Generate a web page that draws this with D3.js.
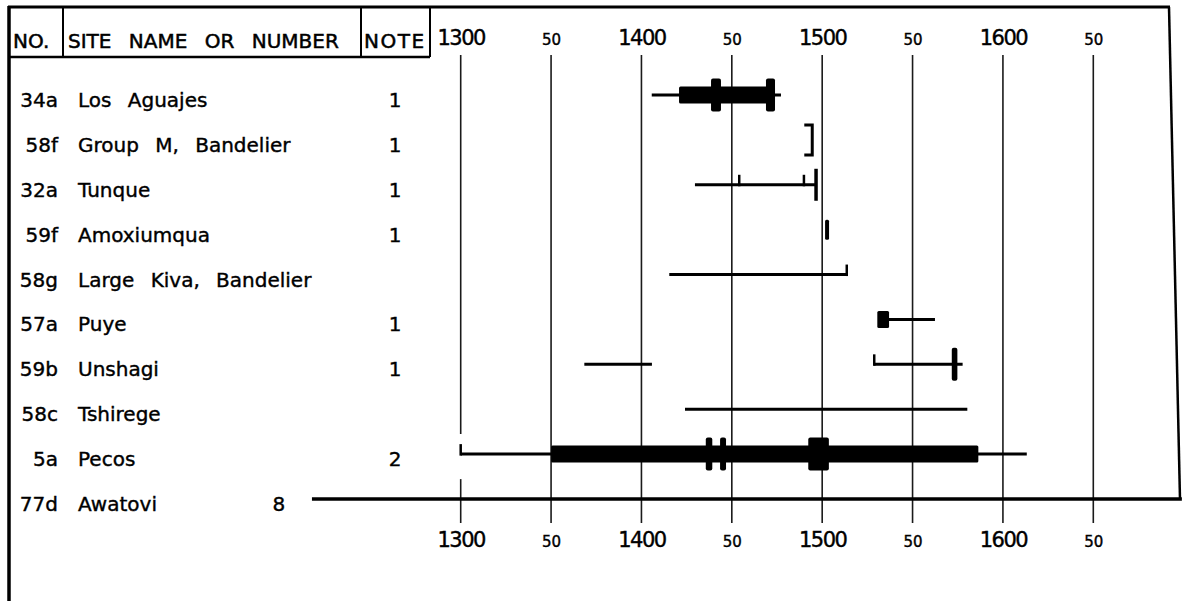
<!DOCTYPE html>
<html>
<head>
<meta charset="utf-8">
<script src="https://cdn.jsdelivr.net/npm/d3@7"></script>
<style>
  html, body { margin: 0; padding: 0; background: #fff; }
  svg { display: block; }
</style>
</head>
<body>
<script>
// ---------- DATA ----------
const rows  = ["34a", "58f", "32a", "59f", "58g", "57a", "59b", "58c", "5a", "77d"];
const names = ["Los Aguajes", "Group M, Bandelier", "Tunque", "Amoxiumqua",
               "Large Kiva, Bandelier", "Puye", "Unshagi", "Tshirege", "Pecos", "Awatovi"];
const notes = ["1", "1", "1", "1", "", "1", "1", "", "2", "8"];

const tickValues = [1300, 1350, 1400, 1450, 1500, 1550, 1600, 1650];
const tickLabels = ["1300", "50", "1400", "50", "1500", "50", "1600", "50"];
const headers = ["NO.", "SITE NAME OR NUMBER", "NOTE"];

// thin date-range lines [row, from, to]
const thinRanges = [
  ["34a", 1405.7, 1477.2],
  ["32a", 1429.6, 1496.6],
  ["58g", 1415.4, 1513.6],
  ["57a", 1533.0, 1562.4],
  ["59b", 1368.4, 1405.8],
  ["59b", 1528.8, 1577.7],
  ["58c", 1424.1, 1580.3],
  ["5a",  1300.0, 1613.2],
  ["77d", 1217.7, 1699.0]
];
// heavy bars [row, from, to]
const heavyRanges = [
  ["34a", 1420.8, 1473.9],
  ["57a", 1530.5, 1537.0],
  ["5a",  1350.0, 1586.4]
];
// tall blocks [row, from, to]
const tallBlocks = [
  ["34a", 1438.5, 1444.0],
  ["34a", 1468.9, 1473.9],
  ["59b", 1571.7, 1574.8],
  ["5a",  1435.6, 1439.2],
  ["5a",  1443.5, 1446.8],
  ["5a",  1492.3, 1503.7]
];
// short blocks [row, from, to]
const shortBlocks = [
  ["59f", 1501.6, 1503.8]
];
// upward ticks [row, year]
const upTicks = [
  ["32a", 1454.1], ["32a", 1489.9],
  ["58g", 1513.6], ["59b", 1528.8], ["5a", 1300.0]
];
// full vertical end bars [row, year]
const endBars = [["32a", 1496.6]];
// brackets "]" [row, from, to]
const brackets = [["58f", 1490.1, 1494.5]];

// ---------- CHART ----------
const W = 1182, H = 601;
const svg = d3.select("body").append("svg").attr("width", W).attr("height", H);

const x = d3.scaleLinear().domain([1300, 1650]).range([460.7, 1093.3]);
const y = d3.scalePoint().domain(rows).range([95, 499]);

const ink = "#000";
const font = "'DejaVu Sans', sans-serif";

// frame
svg.append("line").attr("x1", 9).attr("y1", 6).attr("x2", 9).attr("y2", H)
  .attr("stroke", ink).attr("stroke-width", 3.5);
svg.append("line").attr("x1", 8).attr("y1", 7).attr("x2", 1170).attr("y2", 7)
  .attr("stroke", ink).attr("stroke-width", 3);
svg.append("line").attr("x1", 1169).attr("y1", 7).attr("x2", 1180).attr("y2", 499)
  .attr("stroke", ink).attr("stroke-width", 2.5);

// header boxes
svg.append("line").attr("x1", 8).attr("y1", 57).attr("x2", 430).attr("y2", 57)
  .attr("stroke", ink).attr("stroke-width", 2.5);
[63, 361, 430].forEach(xx => {
  svg.append("line").attr("x1", xx).attr("y1", 7).attr("x2", xx).attr("y2", 57)
    .attr("stroke", ink).attr("stroke-width", 2);
});
const headerX = [13, 68, 364];
svg.append("g").selectAll("text").data(headers).join("text")
  .attr("x", (d, i) => headerX[i]).attr("y", 48)
  .attr("font-family", font).attr("font-size", 20)
  .attr("word-spacing", 11).attr("letter-spacing", (d, i) => i === 2 ? 1.5 : 0)
  .attr("fill", ink).attr("stroke", ink).attr("stroke-width", 0.5)
  .text(d => d);

// grid lines
const grid = svg.append("g");
const gapTop = y("5a") - 20, gapBot = y("5a") + 25;
tickValues.forEach((t, i) => {
  const segs = i === 0 ? [[55, gapTop], [gapBot, 523]] : [[55, 523]];
  segs.forEach(s => {
    grid.append("line").attr("x1", x(t)).attr("x2", x(t))
      .attr("y1", s[0]).attr("y2", s[1])
      .attr("stroke", "#1a1a1a").attr("stroke-width", 1.6);
  });
});

// axes labels (top and bottom)
function styleAxis(g) {
  g.select(".domain").remove();
  g.selectAll(".tick line").remove();
  g.selectAll(".tick text")
    .attr("y", 0).attr("dy", null)
    .attr("font-family", font)
    .attr("font-size", (d, i) => i % 2 === 0 ? 21 : 15)
    .attr("letter-spacing", (d, i) => i % 2 === 0 ? -1.5 : 0)
    .attr("fill", ink).attr("stroke", ink).attr("stroke-width", 0.4);
}
svg.append("g").attr("transform", "translate(0,45)")
  .call(d3.axisTop(x).tickValues(tickValues).tickSize(0).tickPadding(0)
    .tickFormat((d, i) => tickLabels[i]))
  .call(styleAxis);
svg.append("g").attr("transform", "translate(0,547)")
  .call(d3.axisBottom(x).tickValues(tickValues).tickSize(0).tickPadding(0)
    .tickFormat((d, i) => tickLabels[i]))
  .call(styleAxis);
svg.selectAll(".tick text").attr("font-family", font);

// row labels
const lab = svg.append("g").attr("font-family", font).attr("font-size", 20)
  .attr("fill", ink).attr("stroke", ink).attr("stroke-width", 0.4);
lab.selectAll("text.num").data(rows).join("text").attr("class", "num")
  .attr("x", 58).attr("y", d => y(d) + 12).attr("text-anchor", "end").text(d => d);
lab.selectAll("text.name").data(names).join("text").attr("class", "name")
  .attr("x", 78).attr("y", (d, i) => y(rows[i]) + 12).attr("word-spacing", 10).text(d => d);

// notes
const startOf = {};
thinRanges.forEach(r => { startOf[r[0]] = Math.min(startOf[r[0]] ?? Infinity, r[1]); });
lab.selectAll("text.note").data(notes).join("text").attr("class", "note")
  .attr("x", (d, i) => Math.min(395, x(startOf[rows[i]] ?? 1300) - 33))
  .attr("y", (d, i) => y(rows[i]) + 12).attr("text-anchor", "middle").text(d => d);

// marks
const marks = svg.append("g");
marks.selectAll("line.thin").data(thinRanges).join("line").attr("class", "thin")
  .attr("x1", d => x(d[1])).attr("x2", d => x(d[2]))
  .attr("y1", d => y(d[0])).attr("y2", d => y(d[0]))
  .attr("stroke", ink).attr("stroke-width", d => d[0] === "77d" ? 3.5 : 3);

marks.selectAll("rect.heavy").data(heavyRanges).join("rect").attr("class", "heavy")
  .attr("x", d => x(d[1])).attr("width", d => x(d[2]) - x(d[1]))
  .attr("y", d => y(d[0]) - 8.5).attr("height", 17).attr("rx", 1.5).attr("fill", ink);

marks.selectAll("rect.tall").data(tallBlocks).join("rect").attr("class", "tall")
  .attr("x", d => x(d[1])).attr("width", d => x(d[2]) - x(d[1]))
  .attr("y", d => y(d[0]) - 16.5).attr("height", 33).attr("rx", 2).attr("fill", ink);

marks.selectAll("rect.short").data(shortBlocks).join("rect").attr("class", "short")
  .attr("x", d => x(d[1])).attr("width", d => x(d[2]) - x(d[1]))
  .attr("y", d => y(d[0]) - 10).attr("height", 20).attr("rx", 1.5).attr("fill", ink);

marks.selectAll("line.up").data(upTicks).join("line").attr("class", "up")
  .attr("x1", d => x(d[1])).attr("x2", d => x(d[1]))
  .attr("y1", d => y(d[0]) + 1.5).attr("y2", d => y(d[0]) - 10)
  .attr("stroke", ink).attr("stroke-width", 2.5);

marks.selectAll("line.end").data(endBars).join("line").attr("class", "end")
  .attr("x1", d => x(d[1])).attr("x2", d => x(d[1]))
  .attr("y1", d => y(d[0]) - 16).attr("y2", d => y(d[0]) + 16)
  .attr("stroke", ink).attr("stroke-width", 3.5);

marks.selectAll("path.bracket").data(brackets).join("path").attr("class", "bracket")
  .attr("d", d => `M${x(d[1])},${y(d[0]) - 15}H${x(d[2])}V${y(d[0]) + 15}H${x(d[1])}`)
  .attr("fill", "none").attr("stroke", ink).attr("stroke-width", 3);
</script>
</body>
</html>
